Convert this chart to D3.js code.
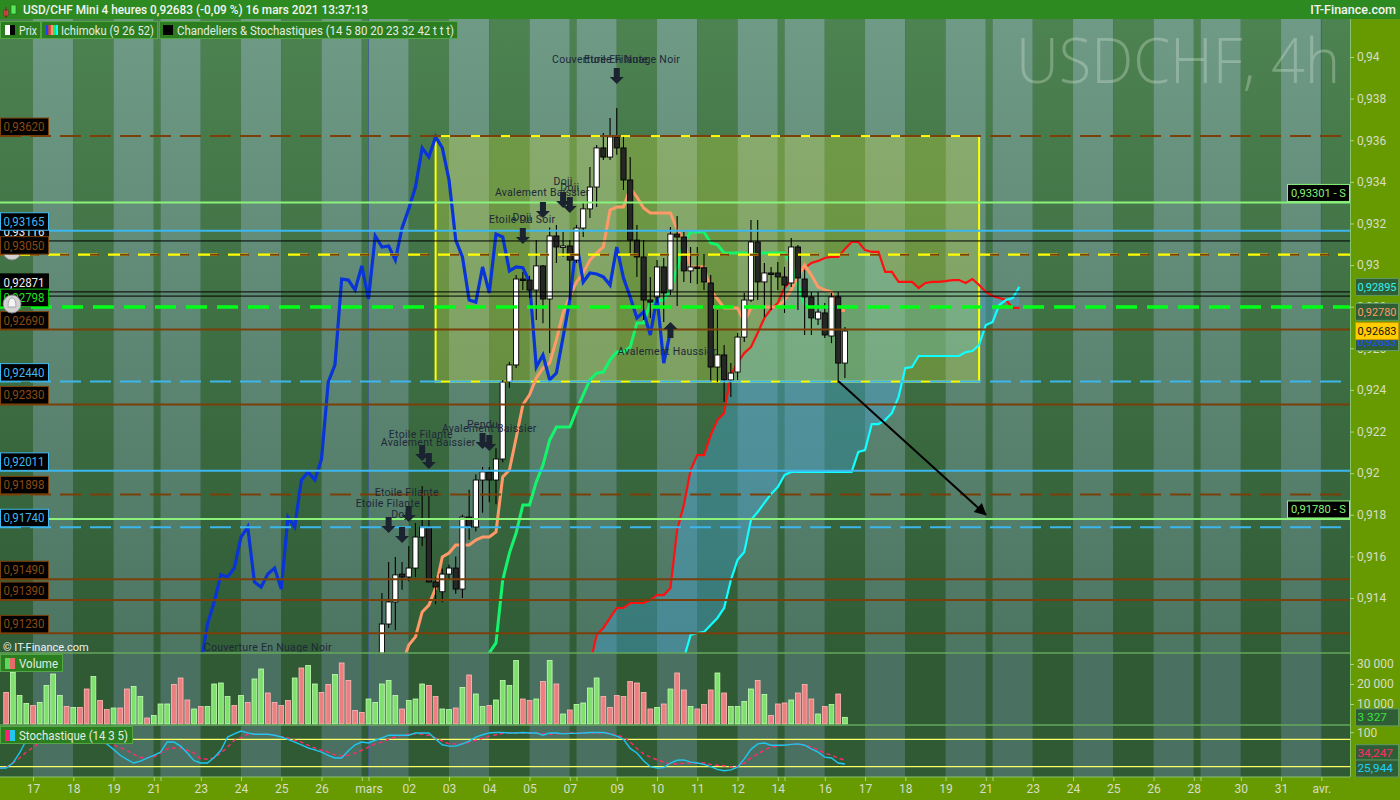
<!DOCTYPE html>
<html>
<head>
<meta charset="utf-8">
<script src="https://cdn.jsdelivr.net/npm/d3@7"></script>
<style>
  body { margin: 0; background: #2f5a33; overflow: hidden; }
  svg text { font-family: Roboto, "Noto Sans", sans-serif; }
</style>
</head>
<body>
<div id="chart"></div>
<script>
// ---- candles (4h bars, index 0 = 17 Feb 00:00) ----
const candleStart = 51;
const opens = [0.9098,0.9108,0.91275,0.91381,0.91515,0.91501,0.91544,0.91693,0.91741,0.91477,
  0.91430,0.91515,0.91544,0.91443,0.91789,0.91741,0.91967,0.92006,0.91967,0.92068,
  0.92438,0.92520,0.92933,0.92928,0.92880,0.92996,0.92837,0.93140,0.93087,0.93092,
  0.93024,0.93178,0.93270,0.93375,0.93563,0.93519,0.93616,0.93563,0.93409,0.93120,
  0.93039,0.92832,0.92847,0.92991,0.92880,0.93149,0.93135,0.92972,0.92991,0.92987,
  0.92914,0.92510,0.92568,0.92448,0.92486,0.92654,0.92832,0.93111,0.92919,0.92962,
  0.92962,0.92943,0.92914,0.93087,0.92933,0.92847,0.92741,0.92770,0.92659,0.92847,0.92529];
const highs = [0.9112,0.91424,0.91573,0.91597,0.91573,0.91650,0.91760,0.91938,0.91890,0.91500,
  0.91540,0.91560,0.91600,0.91800,0.91920,0.91995,0.92030,0.92030,0.92120,0.92448,
  0.92534,0.92952,0.92967,0.92948,0.93120,0.93000,0.93180,0.93193,0.93160,0.93120,
  0.93193,0.93300,0.93471,0.93577,0.93635,0.93707,0.93755,0.93616,0.93519,0.93193,
  0.93120,0.92943,0.93024,0.93034,0.93183,0.93236,0.93159,0.93087,0.93087,0.93053,
  0.92952,0.92784,0.92616,0.92529,0.92674,0.92866,0.93217,0.93217,0.93010,0.92991,
  0.93015,0.92991,0.93130,0.93097,0.92976,0.92871,0.92871,0.92818,0.92866,0.92871,0.92702];
const lows = [0.9094,0.9104,0.91256,0.91246,0.91440,0.91480,0.91500,0.91650,0.91475,0.91370,
  0.91380,0.91490,0.91420,0.91400,0.91680,0.91720,0.91810,0.91860,0.91850,0.92053,
  0.92410,0.92505,0.92880,0.92842,0.92736,0.92720,0.92577,0.93010,0.93040,0.92832,
  0.93010,0.93135,0.93226,0.93279,0.93505,0.93505,0.93530,0.93361,0.93058,0.92943,
  0.92736,0.92746,0.92818,0.92726,0.92856,0.92803,0.92919,0.92914,0.92909,0.92880,
  0.92438,0.92438,0.92342,0.92366,0.92448,0.92630,0.92822,0.92832,0.92751,0.92784,
  0.92880,0.92770,0.92895,0.92784,0.92664,0.92664,0.92712,0.92650,0.92625,0.92433,0.92457];
const closes = [0.9108,0.91275,0.91381,0.91511,0.91501,0.91544,0.91693,0.91741,0.91477,0.91453,
  0.91515,0.91544,0.91443,0.91789,0.91741,0.91967,0.92006,0.91967,0.92068,0.92438,
  0.92520,0.92933,0.92928,0.92880,0.92996,0.92837,0.93140,0.93087,0.93092,0.93024,
  0.93178,0.93270,0.93375,0.93563,0.93519,0.93616,0.93563,0.93409,0.93120,0.93039,
  0.92832,0.92822,0.92991,0.92866,0.93149,0.93135,0.92972,0.92991,0.92987,0.92919,
  0.92510,0.92568,0.92448,0.92481,0.92654,0.92832,0.93111,0.92919,0.92962,0.92957,
  0.92943,0.92904,0.93087,0.92938,0.92847,0.92746,0.92774,0.92664,0.92847,0.92529,0.92683];

// ---- ichimoku (9 26 52) ----
const tenkanStart = 55;
const tenkan = [0.9108,0.91174,0.91213,0.91333,0.91366,0.91448,0.91597,0.91616,0.91655,0.91655,
  0.91655,0.91679,0.91693,0.91693,0.91717,0.91982,0.92015,0.92169,0.92328,0.92376,
  0.92457,0.92505,0.92529,0.92640,0.92770,0.92847,0.92919,0.92962,0.93024,0.93058,
  0.93087,0.93265,0.93279,0.93279,0.93370,0.93327,0.93274,0.93250,0.93250,0.93250,
  0.93250,0.93169,0.93121,0.92991,0.92991,0.92991,0.92880,0.92837,0.92794,0.92794,
  0.92794,0.92726,0.92794,0.92798,0.92798,0.92798,0.92798,0.92832,0.92880,0.92943,
  0.93000,0.92952,0.92895,0.92880,0.92871,0.92784,0.92780];
const kijunStart = 67;
const kijun = [0.9110,0.91136,0.91184,0.91486,0.91616,0.91712,0.91847,0.91847,0.91957,0.92039,
  0.92159,0.92222,0.92222,0.92222,0.92303,0.92376,0.92448,0.92481,0.92486,0.92544,
  0.92582,0.92582,0.92606,0.92722,0.92722,0.92818,0.92827,0.92832,0.92880,0.92986,
  0.93106,0.93159,0.93159,0.93159,0.93106,0.93097,0.93058,0.93058,0.93058,0.93058,
  0.93058,0.93058,0.93058,0.93058,0.93058,0.93058,0.93000,0.92904,0.92808,0.92798,
  0.92798,0.92798,0.92798,0.92798,0.92798];
const spanStart = 83;
const spanRed = [0.9108,0.91222,0.91256,0.91304,0.91352,0.91352,0.91376,0.91376,0.91376,0.91390,
  0.91414,0.91414,0.91448,0.91727,0.91847,0.92015,0.92087,0.92087,0.92183,0.92255,
  0.92289,0.92472,0.92529,0.92577,0.92606,0.92674,0.92746,0.92789,0.92818,0.92890,
  0.92928,0.92957,0.92986,0.93010,0.93020,0.93034,0.93039,0.93039,0.93077,0.93111,
  0.93111,0.93072,0.93063,0.93063,0.92967,0.92967,0.92919,0.92919,0.92919,0.92890,
  0.92914,0.92919,0.92919,0.92923,0.92928,0.92928,0.92914,0.92933,0.92904,0.92871,
  0.92851,0.92842,0.92832,0.92794,0.92794];
const spanCyan = [0.9080,0.9081,0.9085,0.9085,0.9088,0.9091,0.9091,0.9094,0.9097,0.9097,
  0.9101,0.9104,0.9106,0.9109,0.9111,0.91222,0.91232,0.91237,0.91270,0.91304,
  0.91352,0.91486,0.91583,0.91621,0.91775,0.91813,0.91857,0.91900,0.91933,0.91991,
  0.92006,0.92006,0.92006,0.92006,0.92006,0.92006,0.92006,0.92006,0.92006,0.92006,
  0.92102,0.92111,0.92236,0.92236,0.92255,0.92289,0.92366,0.92505,0.92510,0.92563,
  0.92563,0.92563,0.92563,0.92563,0.92563,0.92563,0.92582,0.92587,0.92616,0.92712,
  0.92726,0.92808,0.92832,0.92842,0.92895];
const chikouShift = 26;

// ---- volume ----
const volStart = -4;
const volumes = [15800,25800,14200,10300,9200,10800,19200,25000,14200,8700,
  8300,8300,17500,23700,11700,7200,8000,8000,17500,18700,
  13700,3000,4200,10000,10000,19700,23000,12000,7500,8700,
  8700,20000,20500,13700,9200,14200,10800,22500,27500,15500,
  10800,9200,11700,23000,28000,29200,20000,15800,19700,24700,
  30500,21700,6700,5800,12500,10800,20000,21700,14200,7500,
  11700,12500,20000,19200,13700,7500,7200,8000,18300,24500,
  15000,8700,9200,12000,21700,19200,31700,12500,11700,12500,
  21200,31700,20000,5000,7000,9700,10500,18000,23000,13700,
  8300,14200,13700,21200,20500,15800,7500,8300,10000,17500,
  25500,17000,8700,7500,9700,17000,25500,15500,8700,8700,
  11200,17500,21700,14700,4200,10000,10500,12000,15500,19700,
  12500,5000,8700,9700,15000,3327];
const volUp = [0,1,1,1,0,1,1,1,1,0, 1,0,0,1,0,0,1,0,0,1, 1,0,1,1,1,0,0,0,1,0,
  1,1,1,1,0,1,0,1,1,0, 0,0,0,1,0,1,1,0,0,1, 0,0,0,0,1,1,1,1,1,0,
  1,1,1,0,0,1,1,0,1,0, 1,1,0,1,1,1,1,0,0,1, 0,1,0,1,0,1,1,1,1,0,
  0,0,0,0,0,0,
  0,1,0,1,0,0,1,0,0,0, 1,0,1,1,1,1,0,1,0,0, 0,1,0,0,0,1,0,1,0,1];

// ---- stochastic (14 3 5) ----
const stochStart = -5;
const stochK = [17,17,28,50,78,90,95,96,93,90, 92,88,85,86,80,74,70,58,45,36,
  28,32,39,45,52,74,74,65,50,33, 28,28,40,56,85,92,98,94,91,91,
  91,89,85,80,74,68,61,57,52,45, 39,39,55,68,74,72,78,83,89,89,
  89,89,94,94,94,80,68,65,65,70, 76,85,90,94,95,95,94,94,95,94,
  94,89,94,94,92,93,93,94,95,95, 95,92,87,80,60,50,33,20,17,18,
  28,34,35,30,28,25,20,14,11,13, 19,37,58,70,72,67,67,67,69,70,
  67,59,52,41,39,28,25.944];
const stochD = [17,19,28,39,52,62,72,82,88,90, 90,88,87,85,82,78,74,68,62,55,
  47,40,39,41,50,59,61,61,56,50, 37,37,39,50,63,78,84,91,91,91,
  91,89,86,83,78,74,67,61,56,52, 46,43,45,50,56,63,70,74,80,85,
  89,91,92,91,89,83,76,70,70,70, 73,78,82,87,90,93,94,94,94,94,
  94,92,91,92,93,94,94,94,94,94, 94,93,89,85,74,60,48,41,35,30,
  26,26,28,28,28,28,25,23,22,19, 21,28,39,48,56,63,65,68,69,70,
  68,63,57,50,45,39,34.247];
const stochLevels = [20, 80];

// ---- time axis ----
const dayStarts = [-6,0,6,12,18,19,25,31,37,43,49,50,56,62,68,74,80,81,87,93,
  99,105,111,112,118,124,130,136,142,143,149,155,161,167,173,174,180,186,192,198];
const tickBars = [0,6,12,18,25,31,37,43,50,56,62,68,74,80,87,93,99,105,111,118,
  124,130,136,142,149,155,161,167,173,180,186,192];
const tickLabels = ["17","18","19","21","23","24","25","26","mars","02","03","04","05","07","09","10",
  "11","12","14","16","17","18","19","21","23","24","25","26","28","30","31","avr."];
const monthBars = [50, 192];

// ---- price axis / levels ----
const priceTicks = [0.914,0.916,0.918,0.92,0.922,0.924,0.926,0.928,0.93,0.932,0.934,0.936,0.938,0.94];
const volTicks = [10000, 20000, 30000];
const stochTicks = [100];
const levelPrices = [0.9362,0.93301,0.93165,0.93116,0.9305,0.92871,0.92851,0.92798,0.9269,0.9244,
  0.9233,0.92011,0.91898,0.9178,0.9174,0.9149,0.9139,0.9123];
const levelTypes = ["brownDash","support","blue","black","brownYellow","black","black","greenDash","brown","blueDash",
  "brown","blue","brownDash","support","blueDash","brown","brown","brown"];
const leftLabelPrices = [0.93116,0.9362,0.93165,0.9305,0.92851,0.92871,0.92798,0.9269,0.9244,0.9233,
  0.92011,0.91898,0.9174,0.9149,0.9139,0.9123];
const leftLabelTypes = ["white","brown","blue","brown","white","white","green","brown","blue","brown",
  "blue","brown","blue","brown","brown","brown"];
const supportPrices = [0.93301, 0.9178];

// ---- drawings ----
const boxBars = [60, 141], boxPrices = [0.9362, 0.9244];
const trendBars = [120, 142], trendPrices = [0.92443, 0.9180];
const annoTexts = ["Couverture En Nuage Noir","Etoile Filante","Doji","Doji","Avalement Baissier","Etoile Du Soir","Doji",
  "Avalement Haussier","Pendu","Avalement Baissier","Etoile Filante","Avalement Baissier","Etoile Filante","Etoile Filante","Doji",
  "Couverture En Nuage Noir"];
const annoBars = [86.9,86.9,79,80,75.9,72.9,72.9,94.5,67,68,57.8,58.9,55.7,52.9,54.8,35];
const annoPrices = [0.9399,0.9399,0.93404,0.93375,0.93351,0.93217,0.93231,0.92587,0.92236,0.92217,0.92188,0.92149,
  0.91905,0.91852,0.91799,0.9116];
const arrowBars = [87,76,79,80,73,95,67,68,58,59,56,53,55];
const arrowPrices = [0.93947,0.93303,0.93351,0.93327,0.93178,0.92726,0.92193,0.92183,0.92135,0.92097,0.91842,0.91789,0.91741];
const arrowDirs = ["down","down","down","down","down","up","down","down","down","down","down","down","down"];

// ---- layout ----
const W = 1400, H = 800;
const plotRight = 1350, mainTop = 19, mainBottom = 653, volBottom = 725, stochBottom = 777;

const x = d3.scaleLinear().domain([0, 192]).range([33, 33 + 192 * 6.71]);
const y = d3.scaleLinear().domain([0.914, 0.94]).range([598, 57]);
const yVol = d3.scaleLinear().domain([0, 30000]).range([724, 664]);
const yStoch = d3.scaleLinear().domain([0, 100]).range([775.8, 730.2]);

const fr = d3.formatLocale({decimal: ",", thousands: " ", grouping: [3], currency: ["", ""]});
const fmt5 = fr.format(".5f");
const fmtVol = fr.format(",d");
const fmtSto = fr.format(".3f");
const fmtTick = v => fr.format("~g")(+v.toFixed(3));

const svg = d3.select("#chart").append("svg").attr("width", W).attr("height", H);
const defs = svg.append("defs");

function vgrad(id, c1, c2) {
  const g = defs.append("linearGradient").attr("id", id).attr("gradientUnits", "userSpaceOnUse")
    .attr("x1", 0).attr("x2", 0).attr("y1", mainTop).attr("y2", mainBottom);
  g.append("stop").attr("offset", 0).attr("stop-color", c1);
  g.append("stop").attr("offset", 1).attr("stop-color", c2);
}
vgrad("lightG", "#6f9a86", "#4c7562");
vgrad("darkG", "#4d8251", "#305c36");

function clip(id, y0, y1) {
  defs.append("clipPath").attr("id", id).append("rect")
    .attr("x", 0).attr("y", y0).attr("width", plotRight).attr("height", y1 - y0);
}
clip("cMain", mainTop, mainBottom);
clip("cVol", mainBottom, volBottom);
clip("cSto", volBottom, stochBottom);

// background stripes, one per trading day
function stripes(g, y0, y1, light, dark) {
  g.selectAll("rect.day").data(d3.range(dayStarts.length - 1)).join("rect")
    .attr("class", "day")
    .attr("x", k => x(dayStarts[k])).attr("width", k => x(dayStarts[k + 1]) - x(dayStarts[k]))
    .attr("y", y0).attr("height", y1 - y0)
    .attr("fill", k => k % 2 ? light : dark);
  g.selectAll("line.month").data(monthBars).join("line")
    .attr("class", "month")
    .attr("x1", d => x(d)).attr("x2", d => x(d)).attr("y1", y0).attr("y2", y1)
    .attr("stroke", "#3a5a9a").attr("stroke-width", 1).attr("opacity", 0.7);
}

// ================= main price panel =================
const main = svg.append("g").attr("clip-path", "url(#cMain)");
stripes(main, mainTop, mainBottom, "url(#lightG)", "url(#darkG)");

main.append("text")
  .attr("x", 1016).attr("y", 83).attr("textLength", 324).attr("lengthAdjust", "spacingAndGlyphs")
  .attr("font-size", 62).attr("font-weight", 300)
  .attr("fill", "rgba(215,230,215,0.33)")
  .style("font-family", "'Open Sans', sans-serif")
  .text("USDCHF, 4h");

// kumo
const cloud = spanRed.map((r, k) => ({i: spanStart + k, a: r, b: spanCyan[k]}));
main.append("path").datum(cloud)
  .attr("d", d3.area().x(d => x(d.i)).y0(d => y(d.a)).y1(d => y(d.b)))
  .attr("fill", "rgba(70,165,215,0.42)");

// yellow rectangle
main.append("rect")
  .attr("x", x(boxBars[0])).attr("width", x(boxBars[1]) - x(boxBars[0]))
  .attr("y", y(boxPrices[0])).attr("height", y(boxPrices[1]) - y(boxPrices[0]))
  .attr("fill", "rgba(222,236,60,0.27)").attr("stroke", "#ffff00").attr("stroke-width", 2);

// ichimoku lines
const line = d3.line().x(d => x(d.i)).y(d => y(d.v));
const series = (arr, start) => arr.map((v, k) => ({i: start + k, v}));
main.append("path").datum(series(spanRed, spanStart)).attr("d", line)
  .attr("fill", "none").attr("stroke", "#ff1010").attr("stroke-width", 2.2);
main.append("path").datum(series(spanCyan, spanStart)).attr("d", line)
  .attr("fill", "none").attr("stroke", "#10ffff").attr("stroke-width", 2.2);
main.append("path").datum(series(kijun, kijunStart)).attr("d", line)
  .attr("fill", "none").attr("stroke", "#14f46c").attr("stroke-width", 3);
main.append("path").datum(series(tenkan, tenkanStart)).attr("d", line)
  .attr("fill", "none").attr("stroke", "#ff9a68").attr("stroke-width", 3);
main.append("path").datum(series(closes, candleStart - chikouShift)).attr("d", line)
  .attr("fill", "none").attr("stroke", "#0834d8").attr("stroke-width", 3.2);

// candles
const candles = opens.map((o, k) => ({i: candleStart + k, o, h: highs[k], l: lows[k], c: closes[k]}));
const cg = main.append("g").selectAll("g").data(candles).join("g");
cg.append("line")
  .attr("x1", d => x(d.i)).attr("x2", d => x(d.i))
  .attr("y1", d => y(d.h)).attr("y2", d => y(d.l))
  .attr("stroke", "#000").attr("stroke-width", 1.1);
cg.append("rect")
  .attr("x", d => x(d.i) - 2.6).attr("width", 5.2)
  .attr("y", d => y(Math.max(d.o, d.c)))
  .attr("height", d => Math.max(1.5, Math.abs(y(d.o) - y(d.c))))
  .attr("fill", d => d.c >= d.o ? "#ffffff" : "#262626")
  .attr("stroke", "#000").attr("stroke-width", 0.9);

// horizontal levels
const levelStyle = {
  brownDash: {stroke: "#7b3f0a", w: 2, dash: "21,9"},
  brown: {stroke: "#7b3f0a", w: 2, dash: null},
  blue: {stroke: "#3db6ee", w: 2, dash: null},
  blueDash: {stroke: "#3db6ee", w: 2, dash: "21,9"},
  black: {stroke: "#000", w: 1, dash: null},
  support: {stroke: "#8af27a", w: 2, dash: null},
  greenDash: {stroke: "#00ff18", w: 3.5, dash: "21,10"},
  brownYellow: {stroke: "#7b3f0a", w: 2, dash: "9,21"}
};
const levels = levelPrices.map((p, k) => ({p, t: levelTypes[k]}));
main.append("g").selectAll("line").data(levels.filter(d => d.t === "brownYellow")).join("line")
  .attr("x1", 0).attr("x2", plotRight).attr("y1", d => y(d.p)).attr("y2", d => y(d.p))
  .attr("stroke", "#ffff00").attr("stroke-width", 2.4).attr("stroke-dasharray", "20,10").attr("stroke-dashoffset", 12);
main.append("g").selectAll("line").data(levels).join("line")
  .attr("x1", 0).attr("x2", plotRight).attr("y1", d => y(d.p)).attr("y2", d => y(d.p))
  .attr("stroke", d => levelStyle[d.t].stroke).attr("stroke-width", d => levelStyle[d.t].w)
  .attr("stroke-dasharray", d => levelStyle[d.t].dash);

// trend arrow
defs.append("marker").attr("id", "ah").attr("viewBox", "0 0 10 10").attr("refX", 9).attr("refY", 5)
  .attr("markerWidth", 7).attr("markerHeight", 6).attr("orient", "auto-start-reverse")
  .append("path").attr("d", "M0,0 L10,5 L0,10 Z").attr("fill", "#000");
main.append("line")
  .attr("x1", x(trendBars[0])).attr("y1", y(trendPrices[0]))
  .attr("x2", x(trendBars[1])).attr("y2", y(trendPrices[1]))
  .attr("stroke", "#000").attr("stroke-width", 2).attr("marker-end", "url(#ah)");

// pattern arrows and texts
const arrows = arrowBars.map((b, k) => ({b, p: arrowPrices[k], d: arrowDirs[k]}));
main.append("g").selectAll("path").data(arrows).join("path")
  .attr("transform", d => `translate(${x(d.b)},${y(d.p)})`)
  .attr("d", d => d.d === "down"
    ? "M-3,0 H3 V9 H7 L0,16 L-7,9 H-3 Z"
    : "M0,0 L7,7 H3 V16 H-3 V7 H-7 Z")
  .attr("fill", "#1b2230");
main.append("g").selectAll("text").data(annoTexts.map((t, k) => ({t, b: annoBars[k], p: annoPrices[k]}))).join("text")
  .attr("x", d => x(d.b)).attr("y", d => y(d.p) + 3.5)
  .attr("text-anchor", "middle").attr("font-size", 10.5).attr("letter-spacing", 0.3)
  .attr("fill", "#1e2838").text(d => d.t);

main.append("text").attr("x", 3).attr("y", 651).attr("font-size", 11).attr("fill", "#f2f2f2").text("© IT-Finance.com");

// ================= volume panel =================
const vol = svg.append("g").attr("clip-path", "url(#cVol)");
stripes(vol, mainBottom, volBottom, "#4a7061", "#2f5a33");
const vdata = volumes.map((v, k) => ({i: volStart + k, v, up: volUp[k]}));
vol.append("g").selectAll("rect").data(vdata).join("rect")
  .attr("x", d => x(d.i) - 2.4).attr("width", 4.8)
  .attr("y", d => yVol(d.v)).attr("height", d => yVol(0) - yVol(d.v))
  .attr("fill", d => d.up ? "#80e06e" : "#ec7f7f")
  .attr("stroke", d => d.up ? "#c4ffb4" : "#ffbcbc").attr("stroke-width", 0.8);

// ================= stochastic panel =================
const sto = svg.append("g").attr("clip-path", "url(#cSto)");
stripes(sto, volBottom, stochBottom, "#4a7061", "#2f5a33");
sto.append("g").selectAll("line").data(stochLevels).join("line")
  .attr("x1", 0).attr("x2", plotRight).attr("y1", d => yStoch(d)).attr("y2", d => yStoch(d))
  .attr("stroke", "#ffff66").attr("stroke-width", 1.3);
const sline = d3.line().x(d => x(d.i)).y(d => yStoch(d.v));
sto.append("path").datum(series(stochD, stochStart)).attr("d", sline)
  .attr("fill", "none").attr("stroke", "#ff2a6c").attr("stroke-width", 1.4).attr("stroke-dasharray", "4,3");
sto.append("path").datum(series(stochK, stochStart)).attr("d", sline)
  .attr("fill", "none").attr("stroke", "#1ec6f2").attr("stroke-width", 1.4);

// separators
svg.append("g").selectAll("line").data([mainBottom, volBottom]).join("line")
  .attr("x1", 0).attr("x2", plotRight).attr("y1", d => d).attr("y2", d => d)
  .attr("stroke", "#67a85c").attr("stroke-width", 1.5);

// ================= axes =================
svg.append("rect").attr("x", plotRight).attr("y", mainTop).attr("width", W - plotRight).attr("height", H - mainTop).attr("fill", "#679a00");
svg.append("rect").attr("x", 0).attr("y", stochBottom).attr("width", W).attr("height", H - stochBottom).attr("fill", "#679a00");
svg.append("line").attr("x1", plotRight + 0.5).attr("x2", plotRight + 0.5).attr("y1", mainTop).attr("y2", stochBottom)
  .attr("stroke", "#86c46c").attr("stroke-width", 1);
svg.append("line").attr("x1", 0).attr("x2", plotRight).attr("y1", stochBottom).attr("y2", stochBottom)
  .attr("stroke", "#86c46c").attr("stroke-width", 1);

function styleAxis(g) {
  g.select(".domain").remove();
  g.selectAll(".tick line").attr("stroke", "#a6d58a");
  g.selectAll(".tick text").attr("fill", "#d6ddc8").attr("font-size", 12);
}
svg.append("g").attr("transform", `translate(${plotRight},0)`)
  .call(d3.axisRight(y).tickValues(priceTicks).tickFormat(fmtTick).tickSize(4).tickPadding(3)).call(styleAxis);
svg.append("g").attr("transform", `translate(${plotRight},0)`)
  .call(d3.axisRight(yVol).tickValues(volTicks).tickFormat(fmtVol).tickSize(4).tickPadding(3)).call(styleAxis);
svg.append("g").attr("transform", `translate(${plotRight},2)`)
  .call(d3.axisRight(yStoch).tickValues(stochTicks).tickFormat(d => d).tickSize(4).tickPadding(3)).call(styleAxis);
const labelAt = new Map(tickBars.map((b, k) => [b, tickLabels[k]]));
svg.append("g").attr("transform", `translate(0,${stochBottom})`)
  .call(d3.axisBottom(x).tickValues(dayStarts.filter(b => b >= 0 && b <= 192)).tickFormat(b => labelAt.get(b) || "").tickSize(4).tickPadding(3))
  .call(styleAxis);

// right value tags
function tag(cy, txt, fg, bg, border) {
  const g = svg.append("g");
  g.append("rect").attr("x", 1355.5).attr("y", cy - 8.5).attr("width", 43).attr("height", 17)
    .attr("fill", bg).attr("stroke", border).attr("stroke-width", 1);
  g.append("text").attr("x", 1357.5).attr("y", cy + 4).attr("font-size", 11.5)
    .attr("textLength", Math.min(39, txt.length * 5.9)).attr("lengthAdjust", "spacingAndGlyphs")
    .attr("fill", fg).text(txt);
}
const lastClose = closes[closes.length - 1];
tag(y(spanCyan[spanCyan.length - 1]), fmt5(spanCyan[spanCyan.length - 1]), "#34f2f2", "#2f5e36", "#5e9a62");
tag(y(tenkan[tenkan.length - 1]) + 1, fmt5(tenkan[tenkan.length - 1]), "#ff9a68", "#2f5e36", "#5e9a62");
tag(y(lastClose) + 11, fmt5(lastClose), "#2050ff", "#2f5e36", "#5e9a62");
tag(y(lastClose), fmt5(lastClose), "#111", "#ffcc00", "#c89a00");
tag(yVol(volumes[volumes.length - 1]), fmtVol(volumes[volumes.length - 1]), "#3ee03e", "#2f5e36", "#5e9a62");
tag(yStoch(stochD[stochD.length - 1]) - 7, fmtSto(stochD[stochD.length - 1]), "#ff2a6c", "#2f5e36", "#5e9a62");
tag(yStoch(stochK[stochK.length - 1]) + 4.5, fmtSto(stochK[stochK.length - 1]), "#1ed0ff", "#2f5e36", "#5e9a62");

// support tags "- S"
supportPrices.forEach(p => {
  const yb = y(p) - 1;
  svg.append("rect").attr("x", 1287.5).attr("y", yb - 17).attr("width", 62).attr("height", 17)
    .attr("fill", "#000").attr("stroke", "#8af27a").attr("stroke-width", 1);
  svg.append("text").attr("x", 1291).attr("y", yb - 4.5).attr("font-size", 11.5)
    .attr("textLength", 55).attr("lengthAdjust", "spacingAndGlyphs")
    .attr("fill", "#8af27a").text(fmt5(p) + " - S");
});

// left level labels
const labelStyle = {
  brown: {text: "#8c4a12", border: "#7b3f0a"},
  blue: {text: "#3fb8f0", border: "#3fb8f0"},
  white: {text: "#eeeeee", border: "#000"},
  green: {text: "#22e022", border: "#00c000"}
};
function bell(cx, cy) {
  svg.append("circle").attr("cx", cx).attr("cy", cy).attr("r", 9)
    .attr("fill", "#d2d2d2").attr("stroke", "#8a8a8a").attr("stroke-width", 1);
  svg.append("path").attr("d", `M${cx - 4},${cy + 3} Q${cx - 4},${cy - 6} ${cx},${cy - 6} Q${cx + 4},${cy - 6} ${cx + 4},${cy + 3} Z`)
    .attr("fill", "#f4f4f4").attr("stroke", "#9a9a9a").attr("stroke-width", 0.8);
}
bell(12, 251);
leftLabelPrices.forEach((p, k) => {
  const st = labelStyle[leftLabelTypes[k]];
  const yb = y(p);
  svg.append("rect").attr("x", 0.5).attr("y", yb - 18).attr("width", 48).attr("height", 17.5)
    .attr("fill", "#000").attr("stroke", st.border).attr("stroke-width", 1);
  svg.append("text").attr("x", 3.5).attr("y", yb - 5).attr("font-size", 12)
    .attr("textLength", 41).attr("lengthAdjust", "spacingAndGlyphs")
    .attr("fill", st.text).text(fmt5(p));
});
bell(12, 304);

// panel titles
function panelBox(x0, y0, w, label, c1, c2) {
  svg.append("rect").attr("x", x0 + 0.5).attr("y", y0 + 0.5).attr("width", w).attr("height", 17)
    .attr("fill", "#2b7d20").attr("stroke", "#52a646").attr("stroke-width", 1);
  svg.append("rect").attr("x", x0 + 5).attr("y", y0 + 4).attr("width", 5).attr("height", 11).attr("fill", c1);
  svg.append("rect").attr("x", x0 + 10).attr("y", y0 + 4).attr("width", 5).attr("height", 11).attr("fill", c2);
  svg.append("text").attr("x", x0 + 19).attr("y", y0 + 13.5).attr("font-size", 12.5)
    .attr("textLength", w - 23).attr("lengthAdjust", "spacingAndGlyphs")
    .attr("fill", "#e4ece2").text(label);
}
panelBox(0, 654, 62, "Volume", "#5ad85a", "#e86a6a");
panelBox(0, 726, 132, "Stochastique (14 3 5)", "#ff2070", "#20c8f0");

// ================= header =================
svg.append("rect").attr("x", 0).attr("y", 0).attr("width", W).attr("height", mainTop).attr("fill", "#2c8a20");
svg.append("rect").attr("x", 4).attr("y", 10).attr("width", 4).attr("height", 6).attr("fill", "#e85a5a").attr("stroke", "#7a1a1a").attr("stroke-width", 0.6);
svg.append("line").attr("x1", 6).attr("x2", 6).attr("y1", 7).attr("y2", 18).attr("stroke", "#7a1a1a").attr("stroke-width", 0.8);
svg.append("rect").attr("x", 11).attr("y", 5).attr("width", 5).attr("height", 9).attr("fill", "#5ae85a").attr("stroke", "#1a6a1a").attr("stroke-width", 0.6);
svg.append("text").attr("x", 23).attr("y", 14).attr("font-size", 12.5).attr("font-weight", 500).attr("fill", "#f4f4f4")
  .attr("textLength", 345).attr("lengthAdjust", "spacingAndGlyphs")
  .text(`USD/CHF Mini 4 heures ${fmt5(lastClose)} (-0,09 %) 16 mars 2021 13:37:13`);
svg.append("text").attr("x", 1396).attr("y", 14).attr("text-anchor", "end").attr("font-size", 12.5).attr("font-weight", 500)
  .attr("fill", "#f4f4f4").text("IT-Finance.com");

// legend row
const legend = [
  {x0: 0, w: 40, tx: 19, tl: 18, label: "Prix"},
  {x0: 41, w: 116, tx: 61, tl: 93, label: "Ichimoku (9 26 52)"},
  {x0: 159, w: 298, tx: 177, tl: 277, label: "Chandeliers & Stochastiques (14 5 80 20 23 32 42 t t t)"}
];
legend.forEach(d => {
  svg.append("rect").attr("x", d.x0 + 0.5).attr("y", 21.5).attr("width", d.w).attr("height", 17)
    .attr("fill", "#2b7d20").attr("stroke", "#52a646").attr("stroke-width", 1);
  svg.append("text").attr("x", d.tx).attr("y", 34.5).attr("font-size", 12.5)
    .attr("textLength", d.tl).attr("lengthAdjust", "spacingAndGlyphs")
    .attr("fill", "#e4ece2").text(d.label);
});
svg.append("rect").attr("x", 5).attr("y", 25).attr("width", 5).attr("height", 10).attr("fill", "#fff");
svg.append("rect").attr("x", 10).attr("y", 25).attr("width", 5).attr("height", 10).attr("fill", "#000");
["#2040ff", "#ff3030", "#ff9a68", "#14f46c", "#10ffff"].forEach((c, k) => {
  svg.append("rect").attr("x", 46 + k * 2.4).attr("y", 25).attr("width", 2.4).attr("height", 10).attr("fill", c);
});
svg.append("rect").attr("x", 163).attr("y", 25).attr("width", 10).attr("height", 10).attr("fill", "#000");
</script>
</body>
</html>
